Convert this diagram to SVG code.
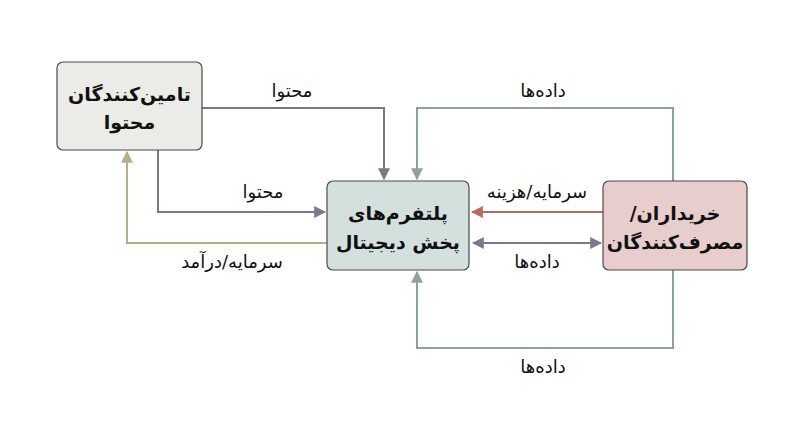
<svg xmlns="http://www.w3.org/2000/svg" width="800" height="447" viewBox="0 0 800 447">
<defs>
<style>
.box{stroke:#4a4a4a;stroke-width:1.2}
.nt{font-family:"DejaVu Sans",sans-serif;font-weight:bold;font-size:19px;fill:#111;text-anchor:middle;direction:rtl;unicode-bidi:embed}
.lb{font-family:"DejaVu Sans",sans-serif;font-size:18px;fill:#111;text-anchor:middle;direction:rtl;unicode-bidi:embed}
.c{fill:none;stroke-width:2}
</style>
<marker id="aP" viewBox="0 0 10 10" refX="9" refY="5" markerWidth="6" markerHeight="6" markerUnits="strokeWidth" orient="auto-start-reverse"><path d="M0,0L10,5L0,10z" fill="#787a8c"/></marker>
<marker id="aG" viewBox="0 0 10 10" refX="9" refY="5" markerWidth="6" markerHeight="6" markerUnits="strokeWidth" orient="auto"><path d="M0,0L10,5L0,10z" fill="#8ea29d"/></marker>
<marker id="aT" viewBox="0 0 10 10" refX="9" refY="5" markerWidth="6" markerHeight="6" markerUnits="strokeWidth" orient="auto"><path d="M0,0L10,5L0,10z" fill="#b8ae88"/></marker>
<marker id="aR" viewBox="0 0 10 10" refX="9" refY="5" markerWidth="6" markerHeight="6" markerUnits="strokeWidth" orient="auto"><path d="M0,0L10,5L0,10z" fill="#b86a5f"/></marker>
</defs>
<rect width="800" height="447" fill="#ffffff"/>
<g id="connectors">
<path class="c" stroke="#787a8c" d="M202,108H384V179" marker-end="url(#aP)"/>
<path class="c" stroke="#787a8c" d="M158,150V212H325" marker-end="url(#aP)"/>
<path class="c" stroke="#b8ae88" d="M327,243H127V152" marker-end="url(#aT)"/>
<path class="c" stroke="#8ea29d" d="M673,181V108H417V179" marker-end="url(#aG)"/>
<path class="c" stroke="#b86a5f" d="M603,212H472" marker-end="url(#aR)"/>
<path class="c" stroke="#787a8c" d="M473,243H601" marker-start="url(#aP)" marker-end="url(#aP)"/>
<path class="c" stroke="#8ea29d" d="M673,270V348H417V272" marker-end="url(#aG)"/>
<text class="lb" x="292" y="97">محتوا</text>
<text class="lb" x="263" y="198">محتوا</text>
<text class="lb" x="232" y="268">سرمایه/درآمد</text>
<text class="lb" x="543" y="97">داده‌ها</text>
<text class="lb" x="537" y="198">سرمایه/هزینه</text>
<text class="lb" x="537" y="268">داده‌ها</text>
<text class="lb" x="543" y="373">داده‌ها</text>
</g>
<g id="supplier">
<rect class="box" x="57" y="62" width="145" height="88" rx="6" fill="#ebebe7"/>
<text class="nt" x="129.5" y="101">تامین‌کنندگان</text>
<text class="nt" x="129.5" y="129">محتوا</text>
</g>
<g id="platform">
<rect class="box" x="327" y="181" width="142" height="89" rx="6" fill="#d4e0dd"/>
<text class="nt" x="398" y="220">پلتفرم‌های</text>
<text class="nt" x="398" y="249">پخش دیجیتال</text>
</g>
<g id="consumers">
<rect class="box" x="603" y="181" width="144" height="89" rx="6" fill="#e7cdcb"/>
<text class="nt" x="675" y="220">خریداران/</text>
<text class="nt" x="675" y="249">مصرف‌کنندگان</text>
</g>
</svg>
